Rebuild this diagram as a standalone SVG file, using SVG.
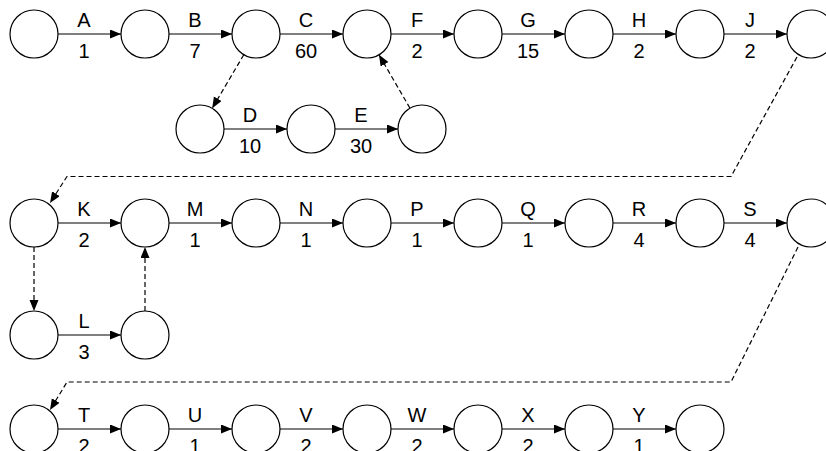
<svg xmlns="http://www.w3.org/2000/svg" width="826" height="451" viewBox="0 0 826 451">
<style>
.n{fill:#fff;stroke:#000;stroke-width:1.2}
.e{fill:none;stroke:#000;stroke-width:1.2}
.d{fill:none;stroke:#000;stroke-width:1.2;stroke-dasharray:5 3}
text{font-family:"Liberation Sans",Arial,sans-serif;font-size:20px;text-anchor:middle;fill:#000}
</style>
<defs>
<marker id="ah" markerUnits="userSpaceOnUse" markerWidth="12" markerHeight="10" refX="11" refY="4.5" orient="auto">
<path d="M0,0 L11,4.5 L0,9 z" fill="#000"/>
</marker>
</defs>
<g id="connectors">
<path class="e" d="M58,34H121" marker-end="url(#ah)"/>
<path class="e" d="M169,34H232" marker-end="url(#ah)"/>
<path class="e" d="M280,34H343" marker-end="url(#ah)"/>
<path class="e" d="M391,34H454" marker-end="url(#ah)"/>
<path class="e" d="M502,34H565" marker-end="url(#ah)"/>
<path class="e" d="M613,34H676" marker-end="url(#ah)"/>
<path class="e" d="M724,34H787" marker-end="url(#ah)"/>
<path class="e" d="M224,129H287" marker-end="url(#ah)"/>
<path class="e" d="M335,129H398" marker-end="url(#ah)"/>
<path class="d" d="M243.8,54.7L212.2,108.3" marker-end="url(#ah)"/>
<path class="d" d="M410,108.2L379,54.8" marker-end="url(#ah)"/>
<path class="d" d="M797,57L731,176.5H67L50,203" marker-end="url(#ah)"/>
<path class="e" d="M58,223H121" marker-end="url(#ah)"/>
<path class="e" d="M169,223H232" marker-end="url(#ah)"/>
<path class="e" d="M280,223H343" marker-end="url(#ah)"/>
<path class="e" d="M391,223H454" marker-end="url(#ah)"/>
<path class="e" d="M502,223H565" marker-end="url(#ah)"/>
<path class="e" d="M613,223H676" marker-end="url(#ah)"/>
<path class="e" d="M724,223H787" marker-end="url(#ah)"/>
<path class="e" d="M58,335H121" marker-end="url(#ah)"/>
<path class="d" d="M34,247V311" marker-end="url(#ah)"/>
<path class="d" d="M145,311V247" marker-end="url(#ah)"/>
<path class="d" d="M798,247L731,382H67L50,410" marker-end="url(#ah)"/>
<path class="e" d="M58,429H121" marker-end="url(#ah)"/>
<path class="e" d="M169,429H232" marker-end="url(#ah)"/>
<path class="e" d="M280,429H343" marker-end="url(#ah)"/>
<path class="e" d="M391,429H454" marker-end="url(#ah)"/>
<path class="e" d="M502,429H565" marker-end="url(#ah)"/>
<path class="e" d="M613,429H676" marker-end="url(#ah)"/>
</g>
<g id="labels">
<text x="84" y="27">A</text><text x="84" y="58">1</text>
<text x="195" y="27">B</text><text x="195" y="58">7</text>
<text x="306" y="27">C</text><text x="306" y="58">60</text>
<text x="417" y="27">F</text><text x="417" y="58">2</text>
<text x="528" y="27">G</text><text x="528" y="58">15</text>
<text x="639" y="27">H</text><text x="639" y="58">2</text>
<text x="750" y="27">J</text><text x="750" y="58">2</text>
<text x="250" y="122">D</text><text x="250" y="153">10</text>
<text x="361" y="122">E</text><text x="361" y="153">30</text>
<text x="84" y="216">K</text><text x="84" y="247">2</text>
<text x="195" y="216">M</text><text x="195" y="247">1</text>
<text x="306" y="216">N</text><text x="306" y="247">1</text>
<text x="417" y="216">P</text><text x="417" y="247">1</text>
<text x="528" y="216">Q</text><text x="528" y="247">1</text>
<text x="639" y="216">R</text><text x="639" y="247">4</text>
<text x="750" y="216">S</text><text x="750" y="247">4</text>
<text x="84" y="328">L</text><text x="84" y="359">3</text>
<text x="84" y="422">T</text><text x="84" y="453">2</text>
<text x="195" y="422">U</text><text x="195" y="453">1</text>
<text x="306" y="422">V</text><text x="306" y="453">2</text>
<text x="417" y="422">W</text><text x="417" y="453">2</text>
<text x="528" y="422">X</text><text x="528" y="453">2</text>
<text x="639" y="422">Y</text><text x="639" y="453">1</text>
</g>
<g id="n1"><circle class="n" cx="34" cy="34" r="24"/></g>
<g id="n2"><circle class="n" cx="145" cy="34" r="24"/></g>
<g id="n3"><circle class="n" cx="256" cy="34" r="24"/></g>
<g id="n4"><circle class="n" cx="367" cy="34" r="24"/></g>
<g id="n5"><circle class="n" cx="478" cy="34" r="24"/></g>
<g id="n6"><circle class="n" cx="589" cy="34" r="24"/></g>
<g id="n7"><circle class="n" cx="700" cy="34" r="24"/></g>
<g id="n8"><circle class="n" cx="811" cy="34" r="24"/></g>
<g id="n9"><circle class="n" cx="200" cy="129" r="24"/></g>
<g id="n10"><circle class="n" cx="311" cy="129" r="24"/></g>
<g id="n11"><circle class="n" cx="422" cy="129" r="24"/></g>
<g id="n12"><circle class="n" cx="34" cy="223" r="24"/></g>
<g id="n13"><circle class="n" cx="145" cy="223" r="24"/></g>
<g id="n14"><circle class="n" cx="256" cy="223" r="24"/></g>
<g id="n15"><circle class="n" cx="367" cy="223" r="24"/></g>
<g id="n16"><circle class="n" cx="478" cy="223" r="24"/></g>
<g id="n17"><circle class="n" cx="589" cy="223" r="24"/></g>
<g id="n18"><circle class="n" cx="700" cy="223" r="24"/></g>
<g id="n19"><circle class="n" cx="811" cy="223" r="24"/></g>
<g id="n20"><circle class="n" cx="34" cy="335" r="24"/></g>
<g id="n21"><circle class="n" cx="145" cy="335" r="24"/></g>
<g id="n22"><circle class="n" cx="34" cy="429" r="24"/></g>
<g id="n23"><circle class="n" cx="145" cy="429" r="24"/></g>
<g id="n24"><circle class="n" cx="256" cy="429" r="24"/></g>
<g id="n25"><circle class="n" cx="367" cy="429" r="24"/></g>
<g id="n26"><circle class="n" cx="478" cy="429" r="24"/></g>
<g id="n27"><circle class="n" cx="589" cy="429" r="24"/></g>
<g id="n28"><circle class="n" cx="700" cy="429" r="24"/></g>
</svg>
